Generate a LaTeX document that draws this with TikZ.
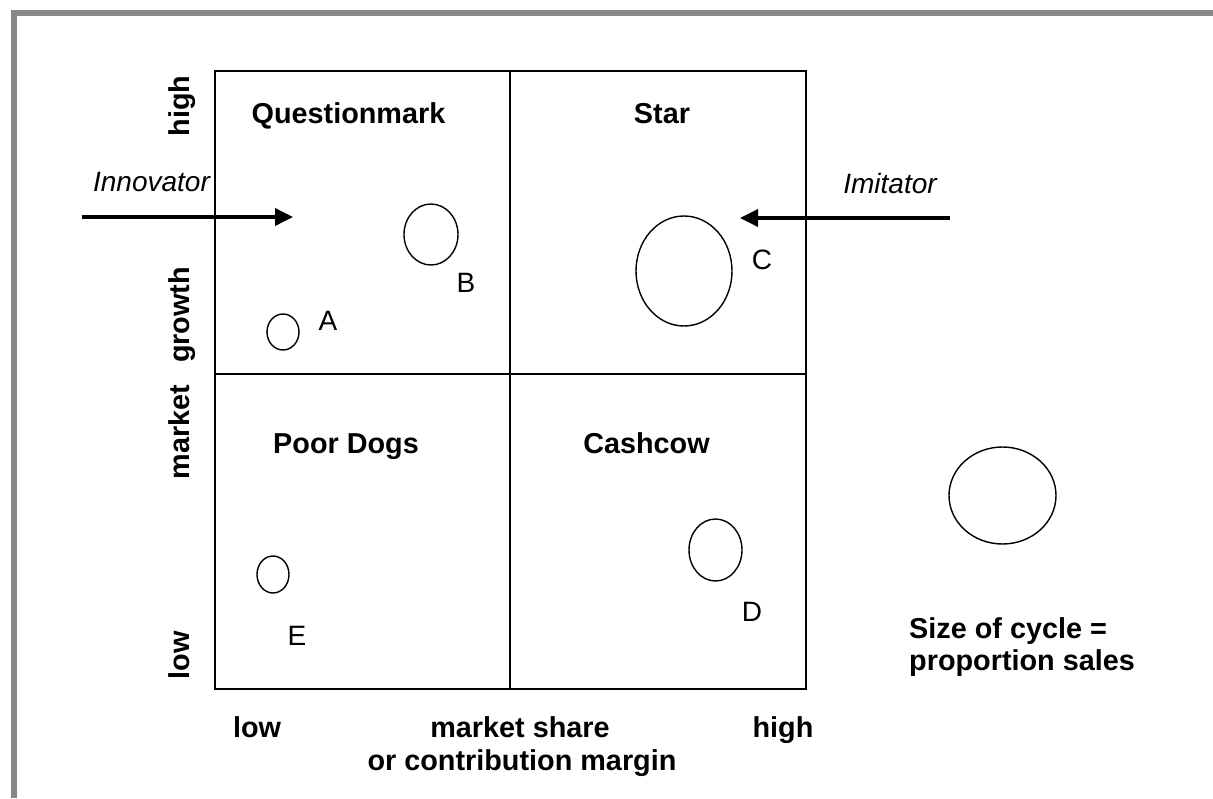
\documentclass[tikz,border=0pt]{standalone}
\usepackage{fontspec}
\setmainfont{Liberation Sans}
\usetikzlibrary{arrows.meta,shapes.geometric}
\begin{document}
\begin{tikzpicture}[x=1pt,y=-1pt,
  boldtxt/.style={font=\fontsize{28.8}{30}\selectfont\bfseries, inner sep=0pt, anchor=base},
  regtxt/.style={font=\fontsize{28}{30}\selectfont, inner sep=0pt, anchor=base},
  ittxt/.style={font=\fontsize{28}{30}\selectfont\itshape, inner sep=0pt, anchor=base},
  axistxt/.style={boldtxt, rotate=90},
  bubble/.style={draw=black, line width=1.4pt, ellipse, inner sep=0pt},
  movearrow/.style={line width=3.6pt, -{Triangle[length=18pt,width=17pt]}},
  gridline/.style={line width=1.8pt, draw=black}
]
\useasboundingbox (0,0) rectangle (1213,798);
% gray frame
\draw[line width=6pt, draw={rgb,255:red,136;green,136;blue,136}] (13.5,798) -- (13.5,13) -- (1213,13);
% portfolio grid
\draw[gridline] (215,71) rectangle (806,689);
\draw[gridline] (510,71) -- (510,689);
\draw[gridline] (215,374) -- (806,374);
% quadrant titles
\node[boldtxt] (qm) at (348.5,123) {Questionmark};
\node[boldtxt] (star) at (662,123) {Star};
\node[boldtxt] (dogs) at (346,453) {Poor Dogs};
\node[boldtxt] (cow) at (646.5,453) {Cashcow};
% vertical axis
\node[axistxt] (yhigh) at (189,106) {high};
\node[axistxt] (ygrowth) at (189,315) {growth};
\node[axistxt] (ymarket) at (189,432) {market};
\node[axistxt] (ylow) at (189,655) {low};
% horizontal axis
\node[boldtxt] (xlow) at (257,737) {low};
\node[boldtxt] (xshare) at (520,737) {market share};
\node[boldtxt] (xhigh) at (783,737) {high};
\node[boldtxt] (xmargin) at (522,770) {or contribution margin};
% bubbles
\node[bubble, minimum width=32pt, minimum height=36pt] (bA) at (283,332) {};
\node[bubble, minimum width=54pt, minimum height=61pt] (bB) at (431,234.5) {};
\node[bubble, minimum width=96pt, minimum height=110pt] (bC) at (684,271) {};
\node[bubble, minimum width=53pt, minimum height=62pt] (bD) at (715.5,550) {};
\node[bubble, minimum width=32pt, minimum height=37pt] (bE) at (273,574.5) {};
\node[bubble, minimum width=107pt, minimum height=97pt] (bL) at (1002.5,495.5) {};
% bubble labels
\node[regtxt] (lA) at (328,330) {A};
\node[regtxt] (lB) at (466,292) {B};
\node[regtxt] (lC) at (762,269) {C};
\node[regtxt] (lD) at (752,621) {D};
\node[regtxt] (lE) at (297,645) {E};
% movers
\node[ittxt] (inno) at (151.5,191) {Innovator};
\node[ittxt] (imit) at (890,193) {Imitator};
\coordinate (innoS) at (82,217);
\coordinate (innoE) at (293,217);
\coordinate (imitS) at (950,218);
\coordinate (imitE) at (740,218);
\draw[movearrow] (innoS) -- (innoE);
\draw[movearrow] (imitS) -- (imitE);
% legend
\node[boldtxt, anchor=base west] (leg1) at (909,638) {Size of cycle =};
\node[boldtxt, anchor=base west] (leg2) at (909,670) {proportion sales};
\end{tikzpicture}
\end{document}
